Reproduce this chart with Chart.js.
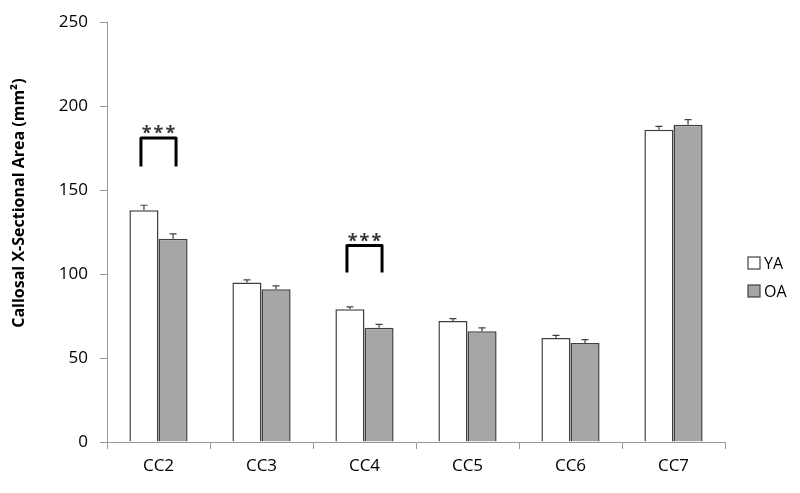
<!DOCTYPE html>
<html>
<head>
<meta charset="utf-8">
<script src="https://cdn.jsdelivr.net/npm/chart.js@4"></script>
<style>
html,body{margin:0;padding:0;background:#fff}
#wrap{width:800px;height:493px;position:relative}
</style>
</head>
<body>
<div id="wrap"><canvas id="chart"></canvas></div>
<script>
// data
const regions = ['CC2', 'CC3', 'CC4', 'CC5', 'CC6', 'CC7'];
const youngAdults = [138, 95, 79, 72, 62, 186];
const olderAdults = [121, 91, 68, 66, 59, 189];
const youngErr = [3, 1.5, 1.5, 1.5, 1.5, 2];
const olderErr = [3, 2, 2, 2, 2, 3];
const yTicks = [0, 50, 100, 150, 200, 250];
const yTitle = 'Callosal X-Sectional Area (mm²)';

// significance brackets
const sigRegions = ['CC2', 'CC4'];
const sigLow = [164, 101];
const sigHigh = [181, 117];
const sigLabel = '***';

const fontFamily = '"Open Sans", Lato, sans-serif';

const errorBars = {
  id: 'errorBars',
  afterDatasetsDraw(chart) {
    const ctx = chart.ctx;
    const y = chart.scales.y;
    const errs = [youngErr, olderErr];
    ctx.save();
    ctx.strokeStyle = '#404040';
    ctx.lineWidth = 1.2;
    chart.data.datasets.forEach((ds, i) => {
      const meta = chart.getDatasetMeta(i);
      meta.data.forEach((bar, j) => {
        const top = y.getPixelForValue(ds.data[j] + errs[i][j]);
        ctx.beginPath();
        ctx.moveTo(bar.x, bar.y);
        ctx.lineTo(bar.x, top);
        ctx.moveTo(bar.x - 3.5, top);
        ctx.lineTo(bar.x + 3.5, top);
        ctx.stroke();
      });
    });
    ctx.restore();
  }
};

const brackets = {
  id: 'brackets',
  afterDatasetsDraw(chart) {
    const ctx = chart.ctx;
    const y = chart.scales.y;
    const m0 = chart.getDatasetMeta(0);
    const m1 = chart.getDatasetMeta(1);
    ctx.save();
    sigRegions.forEach((r, k) => {
      const idx = regions.indexOf(r);
      const xa = m0.data[idx].x - 3;
      const xb = m1.data[idx].x + 3;
      const yl = y.getPixelForValue(sigLow[k]);
      const yh = y.getPixelForValue(sigHigh[k]);
      ctx.strokeStyle = '#000';
      ctx.lineWidth = 3;
      ctx.lineJoin = 'round';
      ctx.beginPath();
      ctx.moveTo(xa, yl);
      ctx.lineTo(xa, yh);
      ctx.lineTo(xb, yh);
      ctx.lineTo(xb, yl);
      ctx.stroke();
      ctx.fillStyle = '#333';
      ctx.font = 'bold 18px ' + fontFamily;
      ctx.letterSpacing = '2px';
      ctx.textAlign = 'center';
      ctx.textBaseline = 'bottom';
      ctx.fillText(sigLabel, (xa + xb) / 2 + 1, yh + 5);
    });
    ctx.restore();
  }
};

// rotated axis title, sitting a little above the middle like the original
const axisTitle = {
  id: 'axisTitle',
  afterDraw(chart) {
    const ctx = chart.ctx;
    const area = chart.chartArea;
    ctx.save();
    ctx.translate(19, (area.top + area.bottom) / 2 - 29);
    ctx.rotate(-Math.PI / 2);
    ctx.fillStyle = '#000';
    ctx.font = 'bold 16px ' + fontFamily;
    ctx.textAlign = 'center';
    ctx.textBaseline = 'middle';
    ctx.fillText(yTitle, 0, 0);
    ctx.restore();
  }
};

const sideLegend = {
  id: 'sideLegend',
  afterDraw(chart) {
    const ctx = chart.ctx;
    const area = chart.chartArea;
    ctx.save();
    chart.data.datasets.forEach((ds, i) => {
      const cy = 263 + i * 28;
      const x = area.right + 23;
      ctx.fillStyle = ds.backgroundColor;
      ctx.strokeStyle = '#404040';
      ctx.lineWidth = 1.2;
      ctx.fillRect(x, cy - 6, 12, 12);
      ctx.strokeRect(x, cy - 6, 12, 12);
      ctx.fillStyle = '#000';
      ctx.font = '16px ' + fontFamily;
      ctx.textAlign = 'left';
      ctx.textBaseline = 'middle';
      ctx.fillText(ds.label, x + 16, cy + 1);
    });
    ctx.restore();
  }
};

new Chart(document.getElementById('chart'), {
  type: 'bar',
  data: {
    labels: regions,
    datasets: [
      {
        label: 'YA',
        data: youngAdults,
        backgroundColor: '#ffffff',
        borderColor: '#404040',
        borderWidth: 1.5,
        barPercentage: 1,
        categoryPercentage: 0.565
      },
      {
        label: 'OA',
        data: olderAdults,
        backgroundColor: '#a6a6a6',
        borderColor: '#404040',
        borderWidth: 1.5,
        barPercentage: 1,
        categoryPercentage: 0.565
      }
    ]
  },
  options: {
    responsive: true,
    maintainAspectRatio: false,
    animation: false,
    layout: { padding: { top: 18, right: 75, left: 0, bottom: 0 } },
    plugins: {
      legend: { display: false },
      tooltip: { enabled: false }
    },
    scales: {
      x: {
        grid: { drawOnChartArea: false, drawTicks: true, tickLength: 7, color: '#999', offset: true },
        border: { color: '#999', width: 1 },
        ticks: { color: '#000', font: { family: fontFamily, size: 17 }, padding: 7 },
        afterFit(scale) { scale.height = 51; }
      },
      y: {
        min: 0,
        max: 250,
        afterBuildTicks(scale) { scale.ticks = yTicks.map(v => ({ value: v })); },
        grid: { drawOnChartArea: false, drawTicks: true, tickLength: 7, color: '#999' },
        border: { color: '#999', width: 1 },
        ticks: { color: '#000', font: { family: fontFamily, size: 17 }, padding: 12 },
        afterFit(scale) { scale.width = 107; }
      }
    }
  },
  plugins: [errorBars, brackets, axisTitle, sideLegend]
});
</script>
</body>
</html>
